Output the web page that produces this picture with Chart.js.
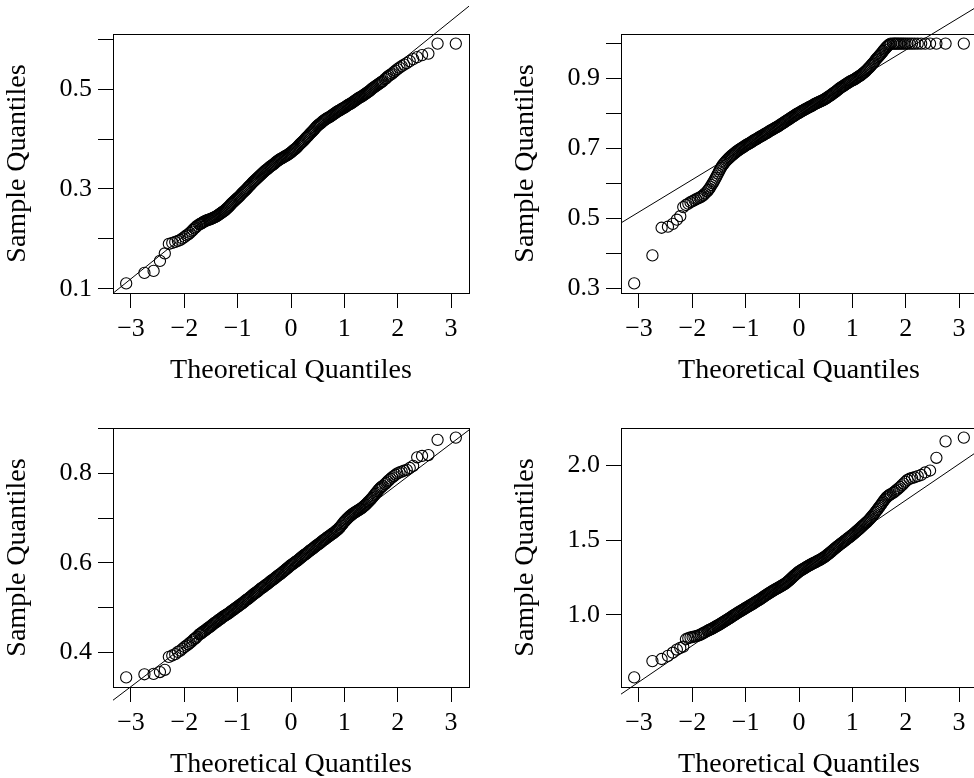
<!DOCTYPE html>
<html>
<head>
<meta charset="utf-8">
<script src="https://cdn.jsdelivr.net/npm/chart.js@4.4.1/dist/chart.umd.min.js"></script>
<style>
  html, body { margin: 0; padding: 0; background: #fff; overflow: hidden; }
  body { width: 974px; height: 778px; position: relative; }
  canvas { position: absolute; }
</style>
</head>
<body>
<canvas id="qq1" width="487" height="389" style="left:0;top:0"></canvas>
<canvas id="qq2" width="487" height="389" style="left:508px;top:0"></canvas>
<canvas id="qq3" width="487" height="389" style="left:0;top:394px"></canvas>
<canvas id="qq4" width="487" height="389" style="left:508px;top:394px"></canvas>
<script>
// theoretical quantiles (shared by all four panels)
var theoretical = [
    -3.090, -2.748, -2.576, -2.457, -2.366, -2.290, -2.226, -2.170, -2.120, -2.075,
    -2.034, -1.995, -1.960, -1.927, -1.896, -1.866, -1.838, -1.812, -1.787, -1.762,
    -1.72, -1.70, -1.68, -1.66, -1.64, -1.62, -1.60, -1.58, -1.56, -1.54,
    -1.52, -1.50, -1.48, -1.46, -1.44, -1.42, -1.40, -1.38, -1.36, -1.34,
    -1.32, -1.30, -1.28, -1.26, -1.24, -1.22, -1.20, -1.18, -1.16, -1.14,
    -1.12, -1.10, -1.08, -1.06, -1.04, -1.02, -1.00, -0.98, -0.96, -0.94,
    -0.92, -0.90, -0.88, -0.86, -0.84, -0.82, -0.80, -0.78, -0.76, -0.74,
    -0.72, -0.70, -0.68, -0.66, -0.64, -0.62, -0.60, -0.58, -0.56, -0.54,
    -0.52, -0.50, -0.48, -0.46, -0.44, -0.42, -0.40, -0.38, -0.36, -0.34,
    -0.32, -0.30, -0.28, -0.26, -0.24, -0.22, -0.20, -0.18, -0.16, -0.14,
    -0.12, -0.10, -0.08, -0.06, -0.04, -0.02, 0.00, 0.02, 0.04, 0.06,
    0.08, 0.10, 0.12, 0.14, 0.16, 0.18, 0.20, 0.22, 0.24, 0.26,
    0.28, 0.30, 0.32, 0.34, 0.36, 0.38, 0.40, 0.42, 0.44, 0.46,
    0.48, 0.50, 0.52, 0.54, 0.56, 0.58, 0.60, 0.62, 0.64, 0.66,
    0.68, 0.70, 0.72, 0.74, 0.76, 0.78, 0.80, 0.82, 0.84, 0.86,
    0.88, 0.90, 0.92, 0.94, 0.96, 0.98, 1.00, 1.02, 1.04, 1.06,
    1.08, 1.10, 1.12, 1.14, 1.16, 1.18, 1.20, 1.22, 1.24, 1.26,
    1.28, 1.30, 1.32, 1.34, 1.36, 1.38, 1.40, 1.42, 1.44, 1.46,
    1.48, 1.50, 1.52, 1.54, 1.56, 1.58, 1.60, 1.62, 1.64, 1.66,
    1.68, 1.70, 1.72,
    1.762, 1.787, 1.812, 1.838, 1.866, 1.896, 1.927, 1.960, 1.995, 2.034,
    2.075, 2.120, 2.170, 2.226, 2.290, 2.366, 2.457, 2.576, 2.748, 3.090
]

var sample1 = [
    0.111, 0.132, 0.136, 0.156, 0.171, 0.190, 0.192, 0.194, 0.196, 0.198,
    0.201, 0.204, 0.207, 0.209, 0.212, 0.215, 0.218, 0.221, 0.223, 0.226,
    0.229, 0.230, 0.231, 0.2325, 0.234, 0.235, 0.236, 0.237, 0.238, 0.2385,
    0.239, 0.240, 0.241, 0.242, 0.243, 0.244, 0.245, 0.2465, 0.248, 0.2495,
    0.251, 0.2525, 0.254, 0.2555, 0.257, 0.259, 0.261, 0.263, 0.265, 0.2675,
    0.270, 0.272, 0.274, 0.276, 0.278, 0.280, 0.282, 0.284, 0.286, 0.2885,
    0.291, 0.293, 0.295, 0.297, 0.299, 0.3015, 0.304, 0.306, 0.308, 0.3105,
    0.313, 0.315, 0.317, 0.319, 0.321, 0.323, 0.325, 0.327, 0.329, 0.331,
    0.333, 0.335, 0.337, 0.3385, 0.340, 0.342, 0.344, 0.3455, 0.347, 0.3485,
    0.350, 0.352, 0.354, 0.3555, 0.357, 0.3585, 0.360, 0.361, 0.362, 0.3635,
    0.365, 0.366, 0.367, 0.3685, 0.370, 0.3715, 0.373, 0.375, 0.377, 0.3785,
    0.380, 0.382, 0.384, 0.3865, 0.389, 0.391, 0.393, 0.395, 0.397, 0.3995,
    0.402, 0.404, 0.406, 0.4085, 0.411, 0.413, 0.415, 0.4175, 0.420, 0.4225,
    0.425, 0.427, 0.429, 0.4305, 0.432, 0.434, 0.436, 0.4375, 0.439, 0.4405,
    0.442, 0.443, 0.444, 0.4455, 0.447, 0.4485, 0.450, 0.4515, 0.453, 0.4545,
    0.456, 0.457, 0.458, 0.4595, 0.461, 0.462, 0.463, 0.4645, 0.466, 0.4675,
    0.469, 0.470, 0.471, 0.4725, 0.474, 0.4755, 0.477, 0.4785, 0.480, 0.4815,
    0.483, 0.484, 0.485, 0.4865, 0.488, 0.4895, 0.491, 0.4925, 0.494, 0.4955,
    0.497, 0.499, 0.501, 0.5025, 0.504, 0.5055, 0.507, 0.5085, 0.510, 0.5115,
    0.513, 0.5145, 0.516,
    0.520, 0.522, 0.525, 0.527, 0.529, 0.531, 0.534, 0.537, 0.540, 0.543,
    0.546, 0.549, 0.552, 0.556, 0.560, 0.564, 0.568, 0.571, 0.591, 0.591
]

var sample2 = [
    0.315, 0.395, 0.474, 0.477, 0.485, 0.497, 0.507, 0.533, 0.539, 0.543,
    0.547, 0.550, 0.553, 0.556, 0.558, 0.560, 0.562, 0.565, 0.568, 0.572,
    0.578, 0.582, 0.586, 0.591, 0.596, 0.601, 0.606, 0.6115, 0.617, 0.623,
    0.629, 0.635, 0.641, 0.646, 0.651, 0.655, 0.659, 0.6625, 0.666, 0.669,
    0.672, 0.675, 0.678, 0.6805, 0.683, 0.6855, 0.688, 0.6905, 0.693, 0.695,
    0.697, 0.699, 0.701, 0.703, 0.705, 0.707, 0.709, 0.711, 0.713, 0.7145,
    0.716, 0.718, 0.720, 0.722, 0.724, 0.7255, 0.727, 0.729, 0.731, 0.733,
    0.735, 0.7365, 0.738, 0.740, 0.742, 0.7435, 0.745, 0.747, 0.749, 0.751,
    0.753, 0.7545, 0.756, 0.758, 0.760, 0.7615, 0.763, 0.765, 0.767, 0.769,
    0.771, 0.773, 0.775, 0.777, 0.779, 0.781, 0.783, 0.785, 0.787, 0.789,
    0.791, 0.793, 0.795, 0.797, 0.799, 0.8005, 0.802, 0.804, 0.806, 0.8075,
    0.809, 0.811, 0.813, 0.8145, 0.816, 0.8175, 0.819, 0.8205, 0.822, 0.824,
    0.826, 0.8275, 0.829, 0.8305, 0.832, 0.8335, 0.835, 0.8365, 0.838, 0.8395,
    0.841, 0.843, 0.845, 0.847, 0.849, 0.851, 0.853, 0.8555, 0.858, 0.860,
    0.862, 0.8645, 0.867, 0.8695, 0.872, 0.874, 0.876, 0.878, 0.880, 0.882,
    0.884, 0.886, 0.888, 0.890, 0.892, 0.8935, 0.895, 0.8965, 0.898, 0.900,
    0.902, 0.904, 0.906, 0.908, 0.910, 0.9125, 0.915, 0.9175, 0.920, 0.923,
    0.926, 0.929, 0.932, 0.9355, 0.939, 0.9425, 0.946, 0.950, 0.954, 0.9575,
    0.961, 0.9645, 0.968, 0.9715, 0.975, 0.979, 0.983, 0.9865, 0.990, 0.993,
    0.996, 0.998, 1.000,
    1.000, 1.000, 1.000, 1.000, 1.000, 1.000, 1.000, 1.000, 1.000, 1.000,
    1.000, 1.000, 1.000, 1.000, 1.000, 1.000, 1.000, 1.000, 1.000, 1.000
]

var sample3 = [
    0.344, 0.351, 0.352, 0.356, 0.361, 0.390, 0.393, 0.396, 0.401, 0.404,
    0.408, 0.412, 0.415, 0.418, 0.421, 0.424, 0.427, 0.430, 0.432, 0.435,
    0.440, 0.4415, 0.443, 0.445, 0.447, 0.4485, 0.450, 0.452, 0.454, 0.4555,
    0.457, 0.459, 0.461, 0.463, 0.465, 0.4665, 0.468, 0.470, 0.472, 0.4735,
    0.475, 0.477, 0.479, 0.4805, 0.482, 0.4835, 0.485, 0.4865, 0.488, 0.490,
    0.492, 0.4935, 0.495, 0.497, 0.499, 0.5005, 0.502, 0.504, 0.506, 0.5075,
    0.509, 0.511, 0.513, 0.515, 0.517, 0.5185, 0.520, 0.522, 0.524, 0.526,
    0.528, 0.530, 0.532, 0.5335, 0.535, 0.537, 0.539, 0.541, 0.543, 0.5445,
    0.546, 0.548, 0.550, 0.5515, 0.553, 0.555, 0.557, 0.559, 0.561, 0.5625,
    0.564, 0.566, 0.568, 0.570, 0.572, 0.5735, 0.575, 0.577, 0.579, 0.581,
    0.583, 0.585, 0.587, 0.589, 0.591, 0.593, 0.595, 0.5965, 0.598, 0.600,
    0.602, 0.6035, 0.605, 0.607, 0.609, 0.611, 0.613, 0.615, 0.617, 0.6185,
    0.620, 0.622, 0.624, 0.626, 0.628, 0.6295, 0.631, 0.633, 0.635, 0.637,
    0.639, 0.6405, 0.642, 0.644, 0.646, 0.648, 0.650, 0.6515, 0.653, 0.655,
    0.657, 0.6585, 0.660, 0.662, 0.664, 0.6655, 0.667, 0.669, 0.671, 0.673,
    0.675, 0.6775, 0.680, 0.683, 0.686, 0.689, 0.692, 0.6945, 0.697, 0.6995,
    0.702, 0.704, 0.706, 0.708, 0.710, 0.7115, 0.713, 0.7145, 0.716, 0.7175,
    0.719, 0.7205, 0.722, 0.724, 0.726, 0.728, 0.730, 0.7325, 0.735, 0.7375,
    0.740, 0.7425, 0.745, 0.748, 0.751, 0.754, 0.757, 0.760, 0.763, 0.7655,
    0.768, 0.770, 0.772,
    0.776, 0.779, 0.782, 0.785, 0.788, 0.791, 0.794, 0.797, 0.800, 0.802,
    0.804, 0.806, 0.808, 0.812, 0.817, 0.836, 0.839, 0.841, 0.875, 0.880
]

var sample4 = [
    0.583, 0.692, 0.706, 0.727, 0.748, 0.769, 0.780, 0.788, 0.838, 0.845,
    0.850, 0.853, 0.856, 0.859, 0.862, 0.866, 0.870, 0.875, 0.880, 0.885,
    0.893, 0.8965, 0.900, 0.9035, 0.907, 0.911, 0.915, 0.919, 0.923, 0.927,
    0.931, 0.935, 0.939, 0.9435, 0.948, 0.9525, 0.957, 0.9615, 0.966, 0.9705,
    0.975, 0.9795, 0.984, 0.989, 0.994, 0.9985, 1.003, 1.0075, 1.012, 1.0165,
    1.021, 1.025, 1.029, 1.0335, 1.038, 1.0425, 1.047, 1.051, 1.055, 1.0595,
    1.064, 1.068, 1.072, 1.0765, 1.081, 1.0855, 1.090, 1.0945, 1.099, 1.103,
    1.107, 1.112, 1.117, 1.122, 1.127, 1.132, 1.137, 1.1415, 1.146, 1.1505,
    1.155, 1.1595, 1.164, 1.168, 1.172, 1.176, 1.180, 1.184, 1.188, 1.192,
    1.196, 1.2005, 1.205, 1.210, 1.215, 1.2205, 1.226, 1.2325, 1.239, 1.246,
    1.253, 1.2595, 1.266, 1.272, 1.278, 1.284, 1.290, 1.2945, 1.299, 1.3035,
    1.308, 1.312, 1.316, 1.3205, 1.325, 1.329, 1.333, 1.337, 1.341, 1.3445,
    1.348, 1.3515, 1.355, 1.359, 1.363, 1.3665, 1.370, 1.3745, 1.379, 1.3835,
    1.388, 1.3935, 1.399, 1.4045, 1.410, 1.416, 1.422, 1.428, 1.434, 1.440,
    1.446, 1.452, 1.458, 1.4635, 1.469, 1.4745, 1.480, 1.4855, 1.491, 1.4965,
    1.502, 1.5075, 1.513, 1.5185, 1.524, 1.5295, 1.535, 1.541, 1.547, 1.5535,
    1.560, 1.566, 1.572, 1.5785, 1.585, 1.5915, 1.598, 1.6045, 1.611, 1.6175,
    1.624, 1.631, 1.638, 1.6465, 1.655, 1.6635, 1.672, 1.681, 1.690, 1.6995,
    1.709, 1.7185, 1.728, 1.738, 1.748, 1.758, 1.768, 1.7765, 1.785, 1.7915,
    1.798, 1.803, 1.808,
    1.815, 1.822, 1.830, 1.838, 1.846, 1.855, 1.866, 1.878, 1.890, 1.902,
    1.910, 1.915, 1.920, 1.928, 1.935, 1.952, 1.965, 2.050, 2.160, 2.185
]

// reference lines: [intercept, slope]
var qqLine1 = [0.3786, 0.0861]
var qqLine2 = [0.7965, 0.0925]
var qqLine3 = [0.5950, 0.0905]
var qqLine4 = [1.2808, 0.2426]

var xTicks = [-3, -2, -1, 0, 1, 2, 3]
var yTicks1 = [0.1, 0.2, 0.3, 0.4, 0.5, 0.6]
var yLabels1 = [0.1, 0.3, 0.5]
var yTicks2 = [0.3, 0.4, 0.5, 0.6, 0.7, 0.8, 0.9, 1.0]
var yLabels2 = [0.3, 0.5, 0.7, 0.9]
var yTicks3 = [0.4, 0.5, 0.6, 0.7, 0.8, 0.9]
var yLabels3 = [0.4, 0.6, 0.8]
var yTicks4 = [1.0, 1.5, 2.0]
var yLabels4 = [1.0, 1.5, 2.0]

Chart.defaults.font.family = "'Liberation Serif', 'Times New Roman', serif"
Chart.defaults.font.size = 26
Chart.defaults.color = '#000'

// R style box around the plot region
const boxPlugin = {
    id: 'box',
    afterDraw(chart) {
        const a = chart.chartArea
        const ctx = chart.ctx
        ctx.save()
        ctx.strokeStyle = '#000'
        ctx.lineWidth = 1
        ctx.strokeRect(Math.round(a.left) + 0.5, Math.round(a.top) + 0.5,
            Math.round(a.right - a.left), Math.round(a.bottom - a.top))
        ctx.restore()
    }
}

function fmtX(v) {
    return v < 0 ? '\u2212' + Math.abs(v) : String(v)
}

function drawQQ(id, sample, yTicks, yLabels, line) {
    const lo = Math.min(...sample), hi = Math.max(...sample)
    const xlo = Math.min(...theoretical), xhi = Math.max(...theoretical)
    const ypad = (hi - lo) * 0.04
    const xpad = (xhi - xlo) * 0.04
    const xMin = xlo - xpad, xMax = xhi + xpad

    const points = theoretical.map(function(x, i) { return { x: x, y: sample[i] } })
    const linePts = [
        { x: xMin, y: line[0] + line[1] * xMin },
        { x: xMax, y: line[0] + line[1] * xMax }
    ]

    new Chart(document.getElementById(id), {
        type: 'scatter',
        data: {
            datasets: [{
                data: linePts,
                showLine: true,
                borderColor: '#000',
                borderWidth: 1,
                pointRadius: 0,
                clip: false
            }, {
                data: points,
                pointRadius: 5.6,
                pointBorderWidth: 1.1,
                pointBorderColor: '#000',
                pointBackgroundColor: 'rgba(0,0,0,0)'
            }]
        },
        options: {
            responsive: false,
            animation: false,
            devicePixelRatio: 1,
            events: [],
            layout: { padding: { top: 34, right: 18, left: 0, bottom: 0 } },
            plugins: {
                legend: { display: false },
                tooltip: { enabled: false }
            },
            scales: {
                x: {
                    type: 'linear',
                    position: 'bottom',
                    min: xMin,
                    max: xMax,
                    afterBuildTicks: function(s) { s.ticks = xTicks.map(function(v) { return { value: v } }) },
                    afterFit: function(s) { s.height = 96 },
                    grid: { drawOnChartArea: false, drawTicks: true, tickLength: 15, color: '#000', lineWidth: 1 },
                    border: { display: false },
                    ticks: { padding: 6, autoSkip: false, maxRotation: 0, callback: function(v) { return fmtX(v) } },
                    title: { display: true, text: 'Theoretical Quantiles', font: { size: 28 }, padding: { top: 0, bottom: 2 } }
                },
                y: {
                    type: 'linear',
                    position: 'left',
                    min: lo - ypad,
                    max: hi + ypad,
                    afterBuildTicks: function(s) { s.ticks = yTicks.map(function(v) { return { value: v } }) },
                    afterFit: function(s) { s.width = 113 },
                    grid: { drawOnChartArea: false, drawTicks: true, tickLength: 15, color: '#000', lineWidth: 1 },
                    border: { display: false },
                    ticks: {
                        padding: 6,
                        autoSkip: false,
                        callback: function(v) {
                            return yLabels.some(function(l) { return Math.abs(l - v) < 1e-9 }) ? v.toFixed(1) : ''
                        }
                    },
                    title: { display: true, text: 'Sample Quantiles', font: { size: 28 }, padding: { top: 1, bottom: 0 } }
                }
            }
        },
        plugins: [boxPlugin]
    })
}

drawQQ('qq1', sample1, yTicks1, yLabels1, qqLine1)
drawQQ('qq2', sample2, yTicks2, yLabels2, qqLine2)
drawQQ('qq3', sample3, yTicks3, yLabels3, qqLine3)
drawQQ('qq4', sample4, yTicks4, yLabels4, qqLine4)
</script>
</body>
</html>
